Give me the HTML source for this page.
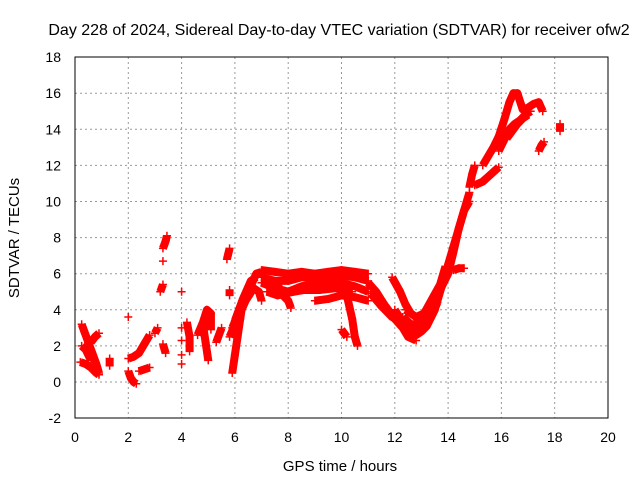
<!DOCTYPE html>
<html><head><meta charset="utf-8"><style>
body{margin:0;background:#fff}
svg{font-family:"Liberation Sans",sans-serif}
</style></head><body>
<svg id="c" width="640" height="480">
<rect width="640" height="480" fill="#fff"/>
<text x="339" y="35" font-size="16" text-anchor="middle">Day 228 of 2024, Sidereal Day-to-day VTEC variation (SDTVAR) for receiver ofw2</text>
<text x="340" y="471" font-size="15" text-anchor="middle">GPS time / hours</text>
<text transform="translate(19,238) rotate(-90)" font-size="15" text-anchor="middle">SDTVAR / TECUs</text>
<g id="grid"></g><g id="marks"></g>
<rect x="75" y="57" width="533" height="361" fill="none" stroke="#000"/>
</svg>
<script>
const xTicks=[0,2,4,6,8,10,12,14,16,18,20];
const yTicks=[-2,0,2,4,6,8,10,12,14,16,18];
const tracks=[
[[0.25,3.2],[0.35,2.8],[0.5,2.2],[0.65,1.6],[0.8,1.0],[0.9,0.5]],
[[0.25,2.0],[0.4,1.8],[0.5,1.5],[0.6,1.2]],
[[0.6,2.2],[0.75,2.5],[0.9,2.7]],
[[0.2,1.1],[0.4,1.0],[0.6,0.8],[0.8,0.5],[0.9,0.4]],
[[1.3,1.3],[1.3,0.9]],
[[2.0,3.6]],
[[2.0,1.3],[2.2,1.4],[2.4,1.6],[2.6,2.1],[2.8,2.6]],
[[2.0,0.6],[2.1,0.2],[2.2,0.0],[2.3,-0.1]],
[[2.4,0.6],[2.6,0.7],[2.8,0.8]],
[[3.0,2.7],[3.1,3.0]],
[[3.2,5.0],[3.3,5.4]],
[[3.3,7.4],[3.4,7.8],[3.45,8.1]],
[[3.3,6.7]],
[[3.3,2.1],[3.4,1.6]],
[[4.0,5.0]],[[4.0,3.0]],[[4.0,2.3]],[[4.0,1.5]],[[4.0,1.0]],
[[4.2,3.3],[4.3,2.5],[4.3,1.7]],
[[4.6,2.6],[4.8,3.3],[4.95,4.0],[5.1,3.8],[5.1,2.9]],
[[4.8,3.2],[4.9,2.2],[5.0,1.2]],
[[5.3,2.2],[5.5,3.0]],
[[5.7,6.8],[5.8,7.4]],
[[5.8,4.8],[5.8,5.1]],
[[5.9,3.0],[6.2,4.0],[6.5,5.0],[6.8,6.0],[7.0,6.1]],
[[6.0,3.4],[6.3,4.6],[6.6,5.6],[6.8,5.8]],
[[5.9,0.5],[6.0,1.5],[6.1,2.5],[6.2,3.5],[6.3,4.5]],
[[5.8,2.5],[6.1,3.5],[6.4,4.5],[6.7,5.2],[6.9,5.0],[7.0,4.5]],
[[7.0,6.2],[7.5,6.1],[8.0,6.0],[8.5,6.1],[9.0,6.0],[9.5,6.1],[10.0,6.2],[10.5,6.1],[11.0,6.0]],
[[7.0,5.8],[7.5,5.6],[8.0,5.6],[8.5,5.8],[9.0,5.8],[9.5,5.7],[10.0,5.9],[10.5,5.8],[11.0,5.6]],
[[7.0,5.5],[7.5,5.2],[8.0,5.0],[8.5,5.3],[9.0,5.5],[9.5,5.4],[10.0,5.5],[10.5,5.3],[11.0,5.0]],
[[7.2,5.0],[7.6,4.8],[8.2,5.0],[8.6,5.1],[9.2,5.1],[9.8,5.2],[10.4,5.0]],
[[7.6,5.4],[7.8,4.8],[8.0,4.5],[8.1,4.1]],
[[9.0,4.5],[9.5,4.6],[10.0,4.8],[10.5,4.7],[11.0,4.5]],
[[10.2,4.8],[10.4,3.5],[10.5,2.5],[10.6,2.0]],
[[10.0,2.9],[10.2,2.5]],
[[11.0,5.5],[11.3,5.0],[11.6,4.3],[12.0,3.5],[12.3,3.0],[12.5,2.5],[12.8,2.3]],
[[11.1,4.9],[11.5,4.2],[11.9,3.6],[12.3,3.3]],
[[11.9,5.8],[12.2,5.0],[12.4,4.3],[12.6,3.8]],
[[12.0,4.0],[12.3,3.3],[12.5,3.0],[12.8,2.6],[13.0,2.8],[13.2,3.1],[13.5,4.0],[13.8,5.5],[14.0,6.5],[14.2,7.5],[14.4,8.5],[14.6,9.5],[14.8,10.5]],
[[12.3,3.6],[12.6,3.2],[12.9,3.2],[13.2,3.6],[13.4,4.2],[13.6,4.8],[13.8,5.4],[14.0,6.0],[14.2,7.2],[14.4,8.5],[14.6,9.5],[14.8,10.0]],
[[12.4,4.0],[12.8,3.6],[13.1,3.8],[13.4,4.6],[13.7,5.4],[13.9,6.4]],
[[12.7,2.8],[13.0,3.2],[13.3,3.5],[13.6,4.4]],
[[14.2,6.2],[14.4,6.3],[14.6,6.3]],
[[14.8,10.8],[14.9,11.5],[15.0,12.0]],
[[15.0,10.9],[15.3,11.1],[15.6,11.5],[15.9,11.9]],
[[15.3,12.0],[15.5,12.5],[15.7,13.0],[15.9,13.6],[16.1,14.5],[16.3,15.5],[16.45,16.0],[16.6,16.0],[16.8,15.1],[17.0,15.2],[17.2,15.4],[17.4,15.5],[17.55,15.0]],
[[15.9,12.8],[16.1,13.4],[16.3,14.0],[16.5,14.3],[16.7,14.5],[16.9,14.8],[17.1,15.0]],
[[16.2,13.5],[16.4,13.9],[16.6,14.3],[16.8,14.6],[17.0,14.8]],
[[17.4,12.8],[17.5,13.1],[17.6,13.3]],
[[18.2,14.3],[18.2,13.9]]
];
const NS='http://www.w3.org/2000/svg';
const X=h=>75+h*26.65, Y=v=>382-v*18.05;
const grid=document.getElementById('grid'), marks=document.getElementById('marks');
function mk(t,a,p){const e=document.createElementNS(NS,t);for(const k in a)e.setAttribute(k,a[k]);p.appendChild(e);return e;}
xTicks.forEach(t=>{
  if(t>0&&t<20){const l=mk('line',{x1:X(t),x2:X(t),y1:57,y2:418,stroke:'#999','stroke-dasharray':'2,3'},grid);
  
  }
  const tx=mk('text',{x:X(t),y:442,'font-size':14,'text-anchor':'middle'},grid);tx.textContent=t;
  
  
});
yTicks.forEach(t=>{
  if(t>-2&&t<18){const l=mk('line',{x1:75,x2:608,y1:Y(t),y2:Y(t),stroke:'#999','stroke-dasharray':'2,3'},grid);
  
  }
  const tx=mk('text',{x:61,y:Y(t)+5,'font-size':14,'text-anchor':'end'},grid);tx.textContent=t;
  
  
});
tracks.forEach(tr=>{
  if(tr.length>1){const pl=mk('polyline',{points:tr.map(p=>X(p[0])+','+Y(p[1])).join(' '),fill:'none',stroke:'#f00','stroke-width':8,'stroke-linejoin':'round'},marks);
  
  }
  tr.forEach(p=>{const x=X(p[0]),y=Y(p[1]);
    const m=mk('path',{d:`M${x-4},${y}h8M${x},${y-4}v8`,stroke:'#f00','stroke-width':1.5},marks);
    
    });
});
</script>
</body></html>
